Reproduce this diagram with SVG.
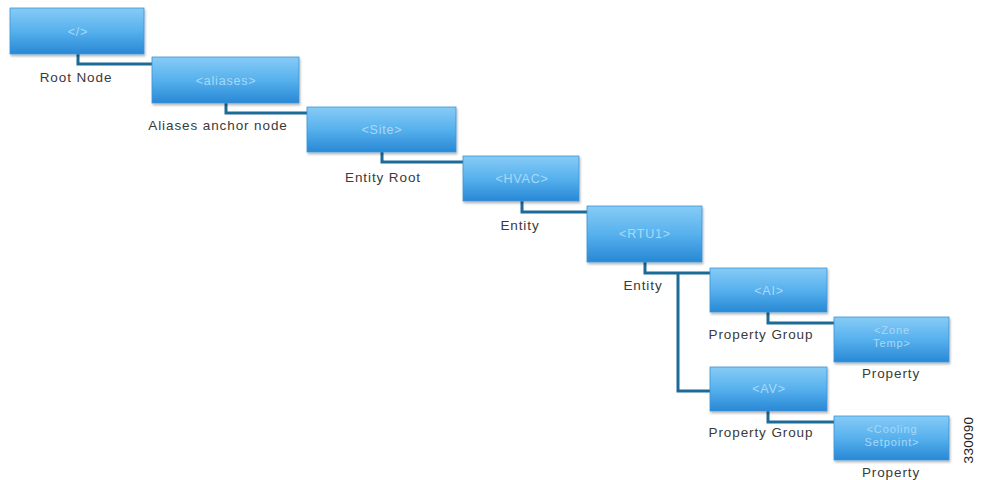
<svg xmlns="http://www.w3.org/2000/svg" width="985" height="480" viewBox="0 0 985 480">
<defs>
<linearGradient id="bg" x1="0" y1="0" x2="0" y2="1">
<stop offset="0" stop-color="#86cbf6"/>
<stop offset="0.5" stop-color="#57b1ed"/>
<stop offset="1" stop-color="#2888d5"/>
</linearGradient>
<filter id="sh" x="-10%" y="-10%" width="120%" height="130%">
<feDropShadow dx="1" dy="2" stdDeviation="1.2" flood-color="#000" flood-opacity="0.28"/>
</filter>
</defs>
<style>
.box{fill:url(#bg);stroke:#3d95d6;stroke-width:0.8;filter:url(#sh)}
.bt{font-family:"Liberation Sans",Arial,sans-serif;font-size:12.5px;letter-spacing:0.8px;fill:#a9d8f8;text-anchor:middle}
.bt2{font-size:11px;letter-spacing:0.9px}
.lb{font-family:"Liberation Sans",Arial,sans-serif;font-size:13.5px;letter-spacing:0.9px;fill:#3a3a3a;text-anchor:middle}
.cn{fill:none;stroke:#1c6a98;stroke-width:3}
</style>
<rect width="985" height="480" fill="#fff"/>
<g id="connectors">
<polyline class="cn" points="78,54 78,64 152,64"/>
<polyline class="cn" points="226,103 226,113 307,113"/>
<polyline class="cn" points="382,152 382,162 463,162"/>
<polyline class="cn" points="522,201 522,212 588,212"/>
<polyline class="cn" points="645,262 645,273 710,273"/>
<polyline class="cn" points="678,273 678,391 710,391"/>
<polyline class="cn" points="768,312 768,323 834,323"/>
<polyline class="cn" points="768,411 768,422 834,422"/>
</g>
<g id="root">
<rect class="box" x="10" y="8" width="134" height="46"/>
<text class="bt" x="78" y="36">&lt;/&gt;</text>
<text class="lb" x="76" y="82">Root Node</text>
</g>
<g id="aliases">
<rect class="box" x="152" y="57" width="147" height="46"/>
<text class="bt" x="226" y="85">&lt;aliases&gt;</text>
<text class="lb" x="218" y="130">Aliases anchor node</text>
</g>
<g id="site">
<rect class="box" x="307" y="107" width="149" height="45"/>
<text class="bt" x="382" y="134">&lt;Site&gt;</text>
<text class="lb" x="383" y="182">Entity Root</text>
</g>
<g id="hvac">
<rect class="box" x="463" y="156" width="116" height="45"/>
<text class="bt" x="522" y="183">&lt;HVAC&gt;</text>
<text class="lb" x="520" y="230">Entity</text>
</g>
<g id="rtu1">
<rect class="box" x="587" y="206" width="115" height="56"/>
<text class="bt" x="645" y="238">&lt;RTU1&gt;</text>
<text class="lb" x="643" y="290">Entity</text>
</g>
<g id="ai">
<rect class="box" x="710" y="268" width="117" height="44"/>
<text class="bt" x="769" y="295">&lt;AI&gt;</text>
<text class="lb" x="761" y="339">Property Group</text>
</g>
<g id="zonetemp">
<rect class="box" x="834" y="317" width="115" height="45"/>
<text class="bt bt2" x="892" y="334">&lt;Zone</text>
<text class="bt bt2" x="892" y="347">Temp&gt;</text>
<text class="lb" x="891" y="378">Property</text>
</g>
<g id="av">
<rect class="box" x="710" y="367" width="117" height="44"/>
<text class="bt" x="769" y="393">&lt;AV&gt;</text>
<text class="lb" x="761" y="437">Property Group</text>
</g>
<g id="cooling">
<rect class="box" x="834" y="416" width="115" height="44"/>
<text class="bt bt2" x="892" y="433">&lt;Cooling</text>
<text class="bt bt2" x="892" y="446">Setpoint&gt;</text>
<text class="lb" x="891" y="477">Property</text>
</g>
<text class="lb" transform="translate(973,440) rotate(-90)" style="fill:#222;letter-spacing:0.3px">330090</text>
</svg>
